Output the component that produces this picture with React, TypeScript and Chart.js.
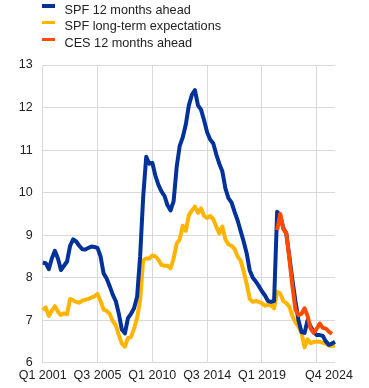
import React, { useEffect, useRef } from "react";
import { Chart, registerables } from "chart.js";

Chart.register(...registerables);

// Category labels (only a few are shown on the axis)
const tickLabels: Record<number, string> = {
  0: "Q1 2001",
  18: "Q3 2005",
  36: "Q1 2010",
  54: "Q3 2014",
  72: "Q1 2019",
  94: "Q4 2024",
};
const pointCount = 97;
const categories: string[] = Array.from({ length: pointCount }, (_, i) => tickLabels[i] ?? "");

const seriesNames = ["SPF 12 months ahead", "SPF long-term expectations", "CES 12 months ahead"];
const seriesColors = ["#003299", "#FFB400", "#FF4B00"];

const spf12m: number[] = [
  8.35, 8.34, 8.2, 8.45, 8.63, 8.45, 8.18, 8.28, 8.38, 8.75,
  8.9, 8.85, 8.75, 8.67, 8.66, 8.7, 8.73, 8.72, 8.7, 8.5,
  8.1, 7.98, 7.8, 7.6, 7.45, 7.15, 6.78, 6.69, 7.05, 7.15,
  7.28, 7.55, 8.5, 9.9, 10.84, 10.68, 10.7, 10.4, 10.18, 10.03,
  9.92, 9.7, 9.58, 9.8, 10.6, 11.1, 11.3, 11.6, 12.05, 12.3,
  12.41, 12.05, 11.95, 11.7, 11.42, 11.25, 11.16, 10.9, 10.68, 10.5,
  10.1, 9.87, 9.77, 9.55, 9.35, 9.1, 8.85, 8.57, 8.17, 8.0,
  7.91, 7.8, 7.68, 7.58, 7.45, 7.43, 7.45, 9.55, 9.47, 9.17,
  9.04, 8.5, 7.95, 7.45, 7.0, 6.72, 6.7, 7.0, 6.85, 6.72,
  6.65, 6.65, 6.63, 6.5, 6.42, 6.45, 6.49,
];

const spfLongTerm: number[] = [
  7.24, 7.3, 7.1, 7.22, 7.33, 7.2, 7.12, 7.16, 7.14, 7.5,
  7.47, 7.43, 7.41, 7.46, 7.48, 7.5, 7.53, 7.56, 7.62, 7.45,
  7.25, 7.22, 7.15, 6.98, 6.88, 6.65, 6.45, 6.38, 6.58, 6.6,
  6.8, 7.05, 7.47, 8.41, 8.45, 8.45, 8.52, 8.5, 8.42, 8.3,
  8.28, 8.28, 8.22, 8.45, 8.8, 8.9, 9.22, 9.1, 9.47, 9.58,
  9.67, 9.52, 9.63, 9.45, 9.4, 9.45, 9.38, 9.2, 9.04, 9.2,
  8.9, 8.78, 8.75, 8.68, 8.5, 8.4, 8.15, 7.85, 7.5, 7.43,
  7.45, 7.43, 7.4, 7.34, 7.36, 7.35, 7.28, 7.67, 7.63, 7.45,
  7.4, 7.32, 7.1, 6.95, 6.85, 6.7, 6.36, 6.55, 6.46, 6.49,
  6.49, 6.49, 6.47, 6.45, 6.4, 6.4, 6.39,
];

const ces12m: (number | null)[] = [
  null, null, null, null, null, null, null, null, null, null,
  null, null, null, null, null, null, null, null, null, null,
  null, null, null, null, null, null, null, null, null, null,
  null, null, null, null, null, null, null, null, null, null,
  null, null, null, null, null, null, null, null, null, null,
  null, null, null, null, null, null, null, null, null, null,
  null, null, null, null, null, null, null, null, null, null,
  null, null, null, null, null, null, null, 9.12, 9.5, 9.15,
  9.05, 8.45, 7.8, 7.25, 7.12, 7.15, 7.28, 7.1, 6.8, 6.7,
  6.8, 6.92, 6.82, 6.8, 6.73, 6.68, null,
];

const yMin = 6;
const yMax = 13;

const FONT = "Arial, 'Liberation Sans', sans-serif";

export default function App() {
  const canvasRef = useRef<HTMLCanvasElement | null>(null);

  useEffect(() => {
    if (!canvasRef.current) return;
    const gridColor = "#d9d9d9";
    const chart = new Chart(canvasRef.current, {
      type: "line",
      data: {
        labels: categories,
        datasets: [
          { label: seriesNames[2], data: ces12m, borderColor: seriesColors[2], order: 0 },
          { label: seriesNames[0], data: spf12m, borderColor: seriesColors[0], order: 1 },
          { label: seriesNames[1], data: spfLongTerm, borderColor: seriesColors[1], order: 2 },
        ].map((d) => ({
          ...d,
          backgroundColor: d.borderColor,
          borderWidth: 4,
          pointRadius: 0,
          pointHoverRadius: 0,
          tension: 0,
          borderJoinStyle: "round" as const,
          fill: false,
          spanGaps: false,
        })),
      },
      options: {
        animation: false,
        responsive: false,
        events: [],
        layout: { padding: { top: 65, left: 0, right: 34, bottom: 0 } },
        plugins: { legend: { display: false }, tooltip: { enabled: false } },
        scales: {
          x: {
            type: "category",
            offset: false,
            grid: {
              drawTicks: false,
              color: (ctx: any) => (ctx.index % 18 === 0 ? gridColor : "rgba(0,0,0,0)"),
              lineWidth: 1,
            },
            border: { display: false },
            ticks: {
              autoSkip: false,
              maxRotation: 0,
              minRotation: 0,
              padding: 5,
              color: "#222",
              font: { family: FONT, size: 12.5 },
            },
            afterFit: (scale: any) => {
              scale.height = 25.3;
            },
          },
          y: {
            min: yMin,
            max: yMax,
            grid: { drawTicks: false, color: gridColor, lineWidth: 1 },
            border: { display: true, color: gridColor },
            ticks: {
              stepSize: 1,
              padding: 10,
              color: "#222",
              font: { family: FONT, size: 12.5 },
            },
            afterFit: (scale: any) => {
              scale.width = 42.7;
            },
          },
        },
      },
    });
    return () => chart.destroy();
  }, []);

  const legendRows = [0, 1, 2];

  return (
    <div style={{ position: "absolute", left: 0, top: 0, width: 369, height: 388, background: "#fff" }}>
      <canvas ref={canvasRef} width={369} height={388} style={{ position: "absolute", left: 0, top: 0 }} />
      {legendRows.map((i) => (
        <React.Fragment key={i}>
          <div
            style={{
              position: "absolute",
              left: 42,
              top: 4.3 + i * 16.6,
              width: 13,
              height: 3.5,
              background: seriesColors[i],
            }}
          />
          <div
            style={{
              position: "absolute",
              left: 64.5,
              top: 1.6 + i * 16.6,
              fontFamily: FONT,
              fontSize: 12.7,
              lineHeight: "16px",
              color: "#222",
              whiteSpace: "nowrap",
            }}
          >
            {seriesNames[i]}
          </div>
        </React.Fragment>
      ))}
    </div>
  );
}
